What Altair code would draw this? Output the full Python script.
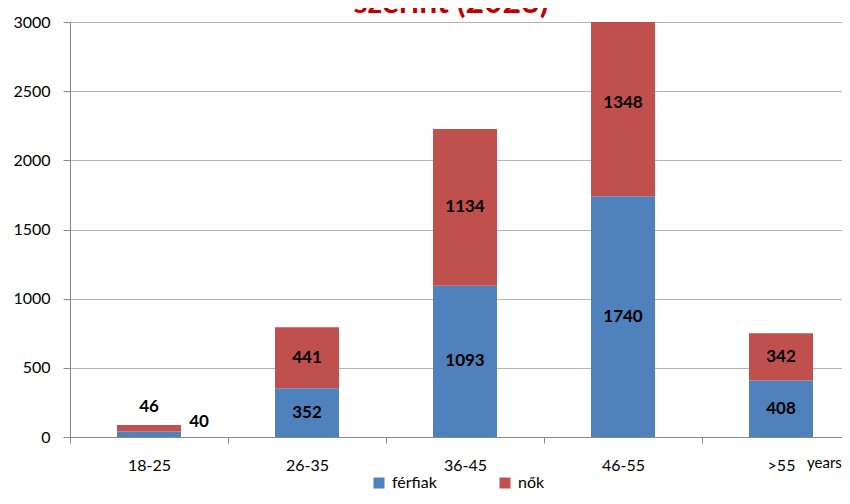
import altair as alt
import pandas as pd

ages = ["18-25", "26-35", "36-45", "46-55", ">55"]
ferfiak = [40, 352, 1093, 1740, 408]
nok = [46, 441, 1134, 1348, 342]
series = ["férfiak", "nők"]
colors = ["#4F81BD", "#C0504D"]
y_ticks = [0, 500, 1000, 1500, 2000, 2500, 3000]
title_text = "szerint (2023)"

rows = []
for i, (a, m, f) in enumerate(zip(ages, ferfiak, nok)):
    rows.append({"idx": i, "age": a, "sex": series[0], "value": m, "start": 0, "end": m, "mid": m / 2, "ord": 0})
    rows.append({"idx": i, "age": a, "sex": series[1], "value": f, "start": m, "end": m + f, "mid": m + f / 2, "ord": 1})
df = pd.DataFrame(rows)

FONT = "Lato"
W, H = 772, 415
# five category bands of 158px each; the last one runs past the visible page edge
x_scale = alt.Scale(domain=[-0.5, 4.5], range=[0, 790], nice=False, zero=False, padding=0)
x_values = [k / 2 for k in range(-1, 10)]
ages_js = "[" + ",".join("'" + a + "'" for a in ages) + "]"

x_enc = alt.X("idx:Q", scale=x_scale, title=None,
              axis=alt.Axis(values=x_values,
                            labelExpr=f"datum.value % 1 == 0 ? {ages_js}[datum.value] : ''",
                            labelOverlap=False, labelFlush=False, labelAngle=0,
                            labelFontSize=16, labelColor="#000000", labelFont=FONT,
                            tickSize=6, tickColor="#888888",
                            tickOpacity={"condition": {"test": "datum.value % 1 != 0", "value": 1}, "value": 0},
                            domainColor="#888888", labelPadding=14, grid=False))
y_scale = alt.Scale(domain=[0, 3000], nice=False)

base = alt.Chart(df)

bars = base.mark_bar(clip=True, size=64).encode(
    x=x_enc,
    y=alt.Y("start:Q", scale=y_scale, title=None,
            axis=alt.Axis(values=y_ticks, format="d", labelFontSize=16, labelColor="#000000",
                          labelFont=FONT, tickSize=7, tickColor="#888888", domainColor="#888888",
                          gridColor="#b5b5b5", labelPadding=13)),
    y2="end:Q",
    color=alt.Color("sex:N", scale=alt.Scale(domain=series, range=colors),
                    legend=alt.Legend(title=None, orient="none", legendX=301, legendY=453,
                                      direction="horizontal", symbolType="square", symbolSize=121,
                                      symbolStrokeWidth=0, labelFontSize=16, labelFont=FONT,
                                      labelColor="#000000", columnPadding=60, labelOffset=5)),
    order="ord:Q",
)

lbl = dict(fontWeight="bold", fontSize=17, font=FONT, color="#000000", baseline="middle")
xq = alt.X("idx:Q", scale=x_scale)

labels_main = base.transform_filter(alt.datum.age != "18-25").mark_text(**lbl).encode(
    x=xq, y=alt.Y("mid:Q", scale=y_scale), text="value:Q")
label_46 = base.transform_filter((alt.datum.age == "18-25") & (alt.datum.sex == "nők")).mark_text(
    dy=-18, **lbl).encode(x=xq, y=alt.Y("end:Q", scale=y_scale), text="value:Q")
label_40 = base.transform_filter((alt.datum.age == "18-25") & (alt.datum.sex == "férfiak")).mark_text(
    dx=50, dy=-9, **lbl).encode(x=xq, y=alt.Y("end:Q", scale=y_scale), text="value:Q")

years = alt.Chart(pd.DataFrame({"t": ["years"]})).mark_text(
    fontSize=15, font=FONT, color="#000000", align="left", baseline="middle").encode(
    x=alt.value(737), y=alt.value(441), text="t:N")

title = alt.Chart(pd.DataFrame({"t": [title_text]})).mark_text(
    fontSize=32, font=FONT, fontWeight="bold", color="#C00000", align="center",
    baseline="alphabetic").encode(x=alt.value(381), y=alt.value(-9), text="t:N")

chart = alt.layer(bars, labels_main, label_46, label_40, years, title).properties(
    width=W, height=H,
    autosize=alt.AutoSizeParams(type="none"),
    padding={"left": 62, "top": 14, "right": 0, "bottom": 55},
).configure_view(stroke=None)

chart.save("out.html", embed_options={"renderer": "svg", "actions": False})
